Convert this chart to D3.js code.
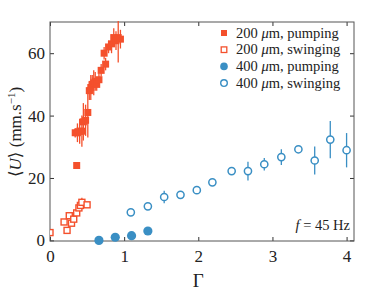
<!DOCTYPE html>
<html>
<head>
<meta charset="utf-8">
<script src="https://cdn.jsdelivr.net/npm/d3@7"></script>
<style>
  body { margin: 0; background: #fff; }
  svg text { font-family: "Liberation Serif", "DejaVu Serif", serif; fill: #222; }
</style>
</head>
<body>
<div class="chart"></div>
<script>
// ---- data: [Gamma, <U>, error]
var pump200 = [
  [0.36, 24, 0], [0.34, 34.5, 1.5], [0.37, 34.5, 3], [0.40, 35, 4], [0.43, 35, 5],
  [0.45, 38, 6], [0.48, 38.5, 5], [0.51, 41, 8], [0.53, 48, 3], [0.55, 49, 4],
  [0.57, 50, 3], [0.59, 50.5, 4], [0.61, 51, 3], [0.63, 50, 2], [0.66, 51.5, 2],
  [0.69, 54.5, 2], [0.73, 60, 2], [0.75, 56.5, 2], [0.79, 62, 2], [0.83, 63, 3],
  [0.86, 65, 3], [0.89, 64, 3], [0.92, 65, 8], [0.95, 64.5, 3]
];
var swing200 = [
  [0.00, 2.5, 0], [0.19, 5.9, 0.5], [0.23, 3.2, 0], [0.26, 7.9, 0.8], [0.29, 5.5, 0],
  [0.32, 6.8, 0.6], [0.36, 8.8, 0.8], [0.39, 10.4, 1], [0.41, 11.2, 1.2], [0.43, 12.2, 1.5],
  [0.50, 11.4, 0]
];
var pump400 = [[0.66, 0, 0], [0.88, 1, 0], [1.10, 1.5, 0], [1.32, 3, 0]];
var swing400 = [
  [1.09, 9, 0], [1.32, 10.9, 0], [1.54, 13.9, 2], [1.76, 14.6, 0], [1.98, 16.1, 0],
  [2.19, 18.6, 0], [2.45, 22.2, 0], [2.67, 22.2, 3], [2.89, 24.4, 2], [3.12, 26.7, 2.5],
  [3.35, 29.2, 0], [3.57, 25.6, 4.5], [3.78, 32.3, 6], [4.00, 28.9, 5.5]
];
var xTicks = [0, 1, 2, 3, 4];
var yTicks = [0, 20, 40, 60];
var legendLabels = ["200 μm, pumping", "200 μm, swinging", "400 μm, pumping", "400 μm, swinging"];

var red = "#f4502c", blue = "#3a8fc4";

// ---- svg + margins
var margin = {top: 22, right: 36, bottom: 52, left: 50},
    width = 390 - margin.left - margin.right,
    height = 293 - margin.top - margin.bottom;

var root = d3.select(".chart").append("svg")
    .attr("width", 390).attr("height", 293);
var svg = root.append("g")
    .attr("transform", "translate(" + margin.left + "," + margin.top + ")");

var x = d3.scaleLinear().domain([0, 4.1]).range([0, width]);
var y = d3.scaleLinear().domain([-0.2, 70]).range([height, 0]);

svg.append("clipPath").attr("id", "clip")
  .append("rect").attr("width", width).attr("height", height + 6).attr("y", -1);

// ---- axes (ticks pointing inwards, on all four sides)
function styleAxis(g) {
  g.select(".domain").remove();
  g.selectAll("line").attr("stroke", "#333");
  g.selectAll("text").style("font-size", "17px");
}
svg.append("g").attr("transform", "translate(0," + height + ")")
  .call(d3.axisBottom(x).tickValues(xTicks).tickFormat(d3.format("d")).tickSize(-4).tickPadding(9))
  .call(styleAxis);
svg.append("g")
  .call(d3.axisLeft(y).tickValues(yTicks).tickFormat(d3.format("d")).tickSize(-4).tickPadding(5))
  .call(styleAxis);
svg.append("g")
  .call(d3.axisTop(x).tickValues(xTicks).tickSize(-4).tickFormat(""))
  .call(styleAxis);
svg.append("g").attr("transform", "translate(" + width + ",0)")
  .call(d3.axisRight(y).tickValues(yTicks).tickSize(-4).tickFormat(""))
  .call(styleAxis);
svg.append("rect").attr("width", width).attr("height", height)
  .attr("fill", "none").attr("stroke", "#555").attr("stroke-width", 1);

// ---- error bars
var plot = svg.append("g").attr("clip-path", "url(#clip)");
function errBars(data, color) {
  plot.selectAll(null).data(data.filter(function(d) { return d[2] > 0; }))
    .enter().append("line")
    .attr("x1", function(d) { return x(d[0]); })
    .attr("x2", function(d) { return x(d[0]); })
    .attr("y1", function(d) { return y(d[1] - d[2]); })
    .attr("y2", function(d) { return y(d[1] + d[2]); })
    .attr("stroke", color).attr("stroke-width", 1.3);
}
errBars(pump200, red);
errBars(swing200, red);
errBars(swing400, blue);

// ---- markers
plot.selectAll(null).data(pump200).enter().append("rect")
  .attr("x", function(d) { return x(d[0]) - 3.5; })
  .attr("y", function(d) { return y(d[1]) - 3.5; })
  .attr("width", 7).attr("height", 7).attr("fill", red);
plot.selectAll(null).data(swing200).enter().append("rect")
  .attr("x", function(d) { return x(d[0]) - 3; })
  .attr("y", function(d) { return y(d[1]) - 3; })
  .attr("width", 6).attr("height", 6)
  .attr("fill", "#fff").attr("stroke", red).attr("stroke-width", 1.4);
plot.selectAll(null).data(pump400).enter().append("circle")
  .attr("cx", function(d) { return x(d[0]); })
  .attr("cy", function(d) { return y(d[1]); })
  .attr("r", 4.6).attr("fill", blue);
plot.selectAll(null).data(swing400).enter().append("circle")
  .attr("cx", function(d) { return x(d[0]); })
  .attr("cy", function(d) { return y(d[1]); })
  .attr("r", 3.6)
  .attr("fill", "#fff").attr("stroke", blue).attr("stroke-width", 1.5);

// ---- legend
var leg = svg.append("g").attr("transform", "translate(174,11)");
legendLabels.forEach(function(label, i) {
  var row = leg.append("g").attr("transform", "translate(0," + (i * 16.7) + ")");
  var color = i < 2 ? red : blue;
  if (i === 0) row.append("rect").attr("x", -3).attr("y", -3).attr("width", 6).attr("height", 6).attr("fill", color);
  if (i === 1) row.append("rect").attr("x", -2.8).attr("y", -2.8).attr("width", 5.6).attr("height", 5.6)
    .attr("fill", "#fff").attr("stroke", color).attr("stroke-width", 1.3);
  if (i === 2) row.append("circle").attr("r", 3.8).attr("fill", color);
  if (i === 3) row.append("circle").attr("r", 3.3).attr("fill", "#fff").attr("stroke", color).attr("stroke-width", 1.4);
  var parts = label.split("μ");
  var t = row.append("text").attr("x", 12).attr("y", 4.5).style("font-size", "14.5px");
  t.append("tspan").text(parts[0]);
  t.append("tspan").style("font-style", "italic").text("μ");
  t.append("tspan").text(parts[1]);
});

// ---- annotation
var ann = svg.append("text").attr("x", width - 4).attr("y", height - 11)
  .attr("text-anchor", "end").style("font-size", "14.5px");
ann.append("tspan").style("font-style", "italic").text("f");
ann.append("tspan").text(" = 45 Hz");

// ---- axis labels
svg.append("text").attr("x", x(2)).attr("y", height + 46)
  .attr("text-anchor", "middle").style("font-size", "19px").text("Γ");
var yl = root.append("text")
  .attr("transform", "translate(21," + (margin.top + 110) + ")rotate(-90)")
  .attr("text-anchor", "middle").style("font-size", "17px");
yl.append("tspan").text("⟨");
yl.append("tspan").style("font-style", "italic").text("U");
yl.append("tspan").text("⟩ (mm.s");
yl.append("tspan").attr("baseline-shift", "super").style("font-size", "11px").text("−1");
yl.append("tspan").text(")");
</script>
</body>
</html>
